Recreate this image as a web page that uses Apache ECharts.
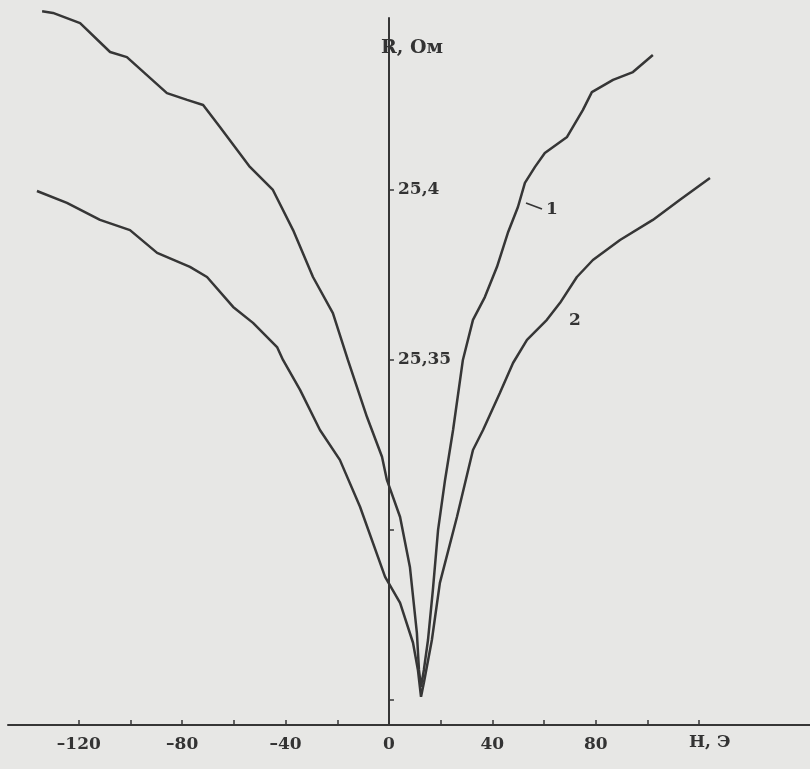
<!DOCTYPE html>
<html>
<head>
<meta charset="utf-8">
<script src="https://cdn.jsdelivr.net/npm/echarts@6/dist/echarts.min.js"></script>
<style>
html,body{margin:0;padding:0;background:#e7e7e5;}
#chart{width:810px;height:769px;}
</style>
</head>
<body>
<div id="chart"></div>
<script>
// Curve 1 (narrow loop): H (Oe) and R (Ohm)
var curve1H = [-134.2,-130.0,-119.5,-107.9,-101.4,-85.9,-78.1,-71.9,-65.4,-53.8,-44.9,-37.1,-29.4,-21.7,-15.9,-8.5,-2.7,-0.8,4.3,8.1,10.8,11.6,12.4,13.5,15.1,17.0,19.0,21.7,24.8,28.6,32.5,37.1,41.8,46.0,49.9,52.6,56.5,60.3,68.9,75.0,78.5,86.7,94.4,102.1];
var curve1R = [25.4526,25.4521,25.4491,25.4406,25.4391,25.4285,25.4265,25.4250,25.4185,25.4068,25.4000,25.3882,25.3744,25.3638,25.3500,25.3332,25.3215,25.3147,25.3038,25.2891,25.2697,25.2588,25.2538,25.2588,25.2676,25.2824,25.3000,25.3147,25.3294,25.3500,25.3618,25.3685,25.3774,25.3874,25.3950,25.4021,25.4068,25.4109,25.4156,25.4235,25.4288,25.4324,25.4347,25.4397];
// Curve 2 (wide loop)
var curve2H = [-136.2,-124.6,-111.8,-100.2,-89.7,-77.0,-70.4,-60.3,-52.6,-43.3,-41.0,-34.4,-26.7,-19.0,-11.2,-1.5,4.3,9.3,11.2,12.4,13.5,16.6,19.7,26.3,32.5,36.4,42.9,48.0,53.4,61.1,66.2,72.7,78.9,89.4,102.1,112.6,124.2];
var curve2R = [25.3997,25.3962,25.3912,25.3882,25.3815,25.3774,25.3744,25.3656,25.3609,25.3538,25.3500,25.3412,25.3294,25.3206,25.3068,25.2862,25.2785,25.2668,25.2588,25.2509,25.2550,25.2676,25.2844,25.3038,25.3235,25.3294,25.3403,25.3491,25.3559,25.3618,25.3668,25.3744,25.3794,25.3853,25.3912,25.3971,25.4035];

var xTickValues = [-120,-100,-80,-60,-40,-20,0,20,40,60,80,100,120];
var xLabelValues = [-120,-80,-40,0,40,80];
var yTickValues = [25.25,25.30,25.35,25.40];
var yLabelValues = [25.35,25.40];
var xAxisName = 'H, Э';
var yAxisName = 'R, Ом';
var curveNames = ['1','2'];

function zip(a,b){var r=[];for(var i=0;i<a.length;i++)r.push([a[i],b[i]]);return r;}

var ink = '#363636';
var font = 'DejaVu Serif';
var gridLeft = 8;
var chart = echarts.init(document.getElementById('chart'), null, {renderer:'canvas'});
chart.setOption({
  backgroundColor:'#e7e7e5',
  animation:false,
  grid:{left:gridLeft,right:0,top:18,bottom:44,containLabel:false},
  xAxis:{
    type:'value', min:-147.4, max:162.9,
    splitLine:{show:false},
    axisLine:{onZero:false,lineStyle:{color:ink,width:2}},
    axisTick:{inside:true,length:5,lineStyle:{color:ink,width:1.5},customValues:xTickValues},
    axisLabel:{customValues:xLabelValues,margin:11,color:'#333',fontFamily:font,fontWeight:'bold',fontSize:17,
      formatter:function(v){return v<0?'–'+Math.abs(v):String(v);}}
  },
  yAxis:{
    type:'value', min:25.2426, max:25.4506, position:'left', offset:0,
    splitLine:{show:false},
    axisLine:{onZero:false,lineStyle:{color:ink,width:2}},
    axisTick:{inside:true,length:5,lineStyle:{color:ink,width:1.5},customValues:yTickValues},
    axisLabel:{inside:true,customValues:yLabelValues,margin:9,color:'#333',fontFamily:font,fontWeight:'bold',fontSize:17,
      formatter:function(v){return String(Math.round(v*100)/100).replace('.',',');}}
  },
  series:[
    {type:'line',name:curveNames[0],data:zip(curve1H,curve1R),showSymbol:false,symbol:'none',clip:false,
     lineStyle:{color:ink,width:2.5}},
    {type:'line',name:curveNames[1],data:zip(curve2H,curve2R),showSymbol:false,symbol:'none',clip:false,
     lineStyle:{color:ink,width:2.5}}
  ],
  graphic:[
    {type:'text',left:381,top:39,style:{text:yAxisName,font:'bold 19px "DejaVu Serif"',fill:'#333'}},
    {type:'text',left:689,top:734,style:{text:xAxisName,font:'bold 17px "DejaVu Serif"',fill:'#333'}},
    {type:'line',shape:{x1:526,y1:203,x2:542,y2:209},style:{stroke:ink,lineWidth:1.8}},
    {type:'text',left:546,top:201,style:{text:curveNames[0],font:'bold 17px "DejaVu Serif"',fill:'#333'}},
    {type:'text',left:569,top:312,style:{text:curveNames[1],font:'bold 17px "DejaVu Serif"',fill:'#333'}}
  ]
});
// Move the vertical axis to H = 0 (axis crosses at zero)
var zeroPx = chart.convertToPixel({xAxisIndex:0}, 0);
chart.setOption({yAxis:{offset:-(zeroPx - gridLeft)}});
</script>
</body>
</html>
